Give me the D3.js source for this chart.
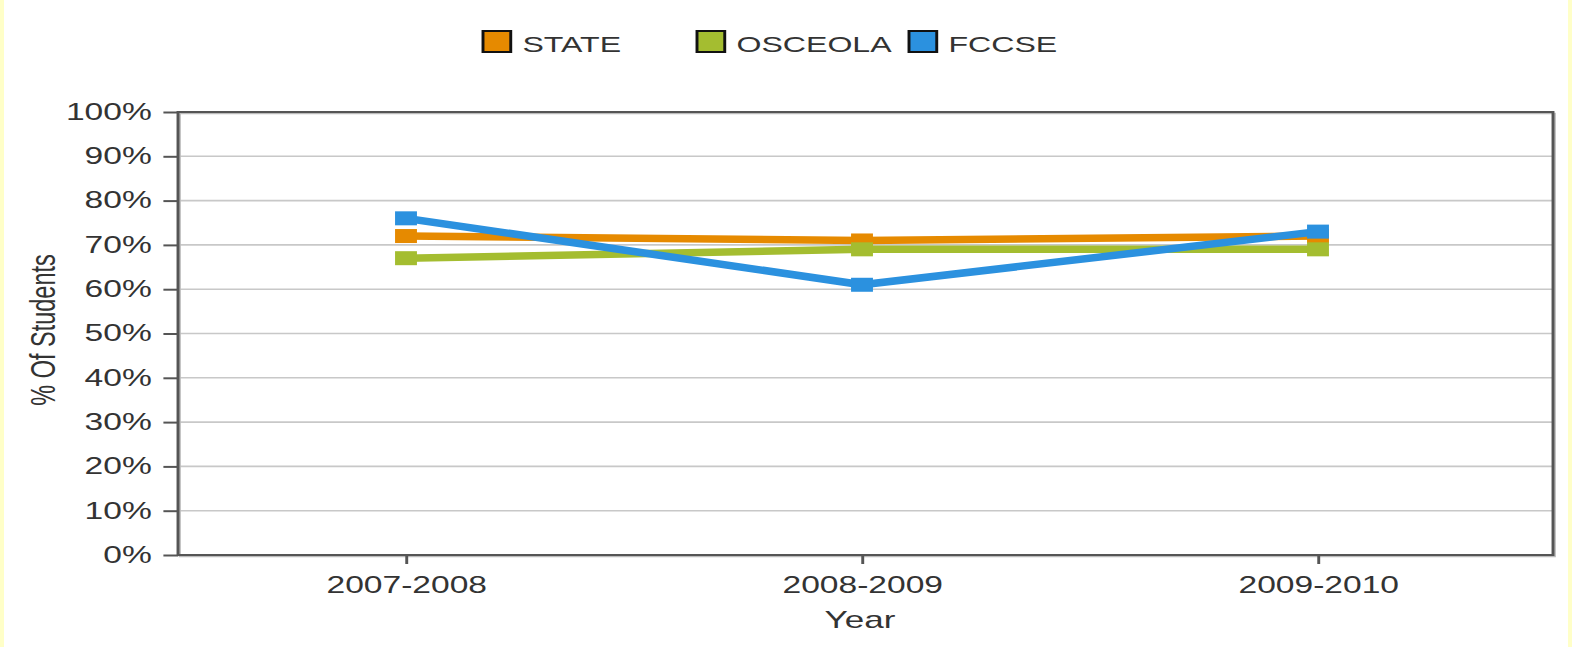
<!DOCTYPE html>
<html>
<head>
<meta charset="utf-8">
<script src="https://cdn.jsdelivr.net/npm/d3@7"></script>
<style>
  html, body { margin: 0; padding: 0; background: #fff; overflow: hidden; }
  svg { display: block; }
  text { font-family: "Liberation Sans", Arial, sans-serif; fill: #333; }
</style>
</head>
<body>
<div id="chart"></div>
<script>
// chart values
const years = ["2007-2008", "2008-2009", "2009-2010"];
const stateVals = [72, 71, 72];
const osceolaVals = [67, 69, 69];
const fccseVals = [76, 61, 73];
const seriesNames = ["STATE", "OSCEOLA", "FCCSE"];
const yTicks = [0, 10, 20, 30, 40, 50, 60, 70, 80, 90, 100];

const colors = {STATE: "#e68a00", OSCEOLA: "#a4bd30", FCCSE: "#2b91df"};
const series = [
    {name: "STATE", values: stateVals},
    {name: "OSCEOLA", values: osceolaVals},
    {name: "FCCSE", values: fccseVals}
];

// the whole picture is stretched horizontally
const pageW = 1572, pageH = 647, sx = 1.46;
const W = pageW / sx;

const plotLeft = 178 / sx, plotRight = 1553 / sx, plotTop = 112, plotBottom = 555;

let svg = d3.select("#chart").append("svg")
    .attr("width", pageW)
    .attr("height", pageH)
    .attr("viewBox", `0 0 ${W} ${pageH}`)
    .attr("preserveAspectRatio", "none");

// pale side stripes
svg.append("rect").attr("x", 0).attr("y", 0)
    .attr("width", 4 / sx).attr("height", pageH).attr("fill", "#ffffc8");
svg.append("rect").attr("x", 1568 / sx).attr("y", 0)
    .attr("width", 4 / sx).attr("height", pageH).attr("fill", "#ffffc8");

// scales
// ------------------------------------------------------
let xScale = d3.scalePoint()
    .domain(years)
    .range([406 / sx, 1318 / sx]);

let yScale = d3.scaleLinear()
    .domain([0, 100])
    .range([plotBottom, plotTop]);

// gridlines
// ------------------------------------------------------
svg.append("g")
    .selectAll("line")
    .data(yTicks.slice(1, -1))
    .enter()
    .append("line")
        .attr("x1", plotLeft).attr("x2", plotRight)
        .attr("y1", d => yScale(d)).attr("y2", d => yScale(d))
        .attr("stroke", "#c8c8c8")
        .attr("stroke-width", 1.6);

// frame with a soft shadow
svg.append("rect")
    .attr("x", plotLeft + 1.2).attr("y", plotTop + 1.5)
    .attr("width", plotRight - plotLeft).attr("height", plotBottom - plotTop)
    .attr("fill", "none").attr("stroke", "#bbb").attr("stroke-width", 1.5);
svg.append("rect")
    .attr("x", plotLeft).attr("y", plotTop)
    .attr("width", plotRight - plotLeft).attr("height", plotBottom - plotTop)
    .attr("fill", "none").attr("stroke", "#555").attr("stroke-width", 2);

// axes
// ------------------------------------------------------
let leftAxis = svg.append("g")
    .attr("transform", `translate(${plotLeft}, 0)`)
    .call(d3.axisLeft(yScale)
        .tickValues(yTicks)
        .tickFormat(d => d + "%")
        .tickSize(10)
        .tickPadding(8));

let bottomAxis = svg.append("g")
    .attr("transform", `translate(0, ${plotBottom})`)
    .call(d3.axisBottom(xScale)
        .tickSize(9)
        .tickPadding(13));

[leftAxis, bottomAxis].forEach(ax => {
    ax.select(".domain").remove();
    ax.selectAll(".tick line").attr("stroke", "#555").attr("stroke-width", 2);
    ax.selectAll(".tick text")
        .attr("fill", "#3a3a3a")
        .style("font-family", "'Liberation Sans', Arial, sans-serif")
        .style("font-size", "23px");
});

// axis titles
svg.append("text")
    .attr("x", 860 / sx)
    .attr("y", 628)
    .attr("text-anchor", "middle")
    .attr("fill", "#3a3a3a")
    .style("font-size", "24px")
    .text("Year");

svg.append("text")
    .attr("transform", `translate(${55 / sx}, ${330}) rotate(-90)`)
    .attr("text-anchor", "middle")
    .attr("fill", "#3a3a3a")
    .style("font-size", "23.5px")
    .text("% Of Students");

// lines and markers
// ------------------------------------------------------
let line = d3.line()
    .x((d, i) => xScale(years[i]))
    .y(d => yScale(d));

let markW = 15, markH = 14;

series.forEach(s => {
    let g = svg.append("g").attr("class", "series");
    g.append("path")
        .attr("d", line(s.values))
        .attr("fill", "none")
        .attr("stroke", colors[s.name])
        .attr("stroke-width", 7.5)
        .attr("stroke-linejoin", "round");
    g.selectAll("rect")
        .data(s.values)
        .enter()
        .append("rect")
            .attr("x", (d, i) => xScale(years[i]) - markW / 2)
            .attr("y", d => yScale(d) - markH / 2)
            .attr("width", markW)
            .attr("height", markH)
            .attr("fill", colors[s.name]);
});

// legend
// ------------------------------------------------------
let legendX = [483, 697, 909];
let legend = svg.append("g")
    .selectAll("g")
    .data(seriesNames)
    .enter()
    .append("g")
        .attr("transform", (d, i) => `translate(${legendX[i] / sx}, 31)`);

legend.append("rect")
    .attr("width", 19).attr("height", 21)
    .attr("fill", d => colors[d])
    .attr("stroke", "#111").attr("stroke-width", 2);

legend.append("text")
    .attr("x", 27)
    .attr("y", 21)
    .style("font-size", "22px")
    .attr("fill", "#111")
    .text(d => d);
</script>
</body>
</html>
